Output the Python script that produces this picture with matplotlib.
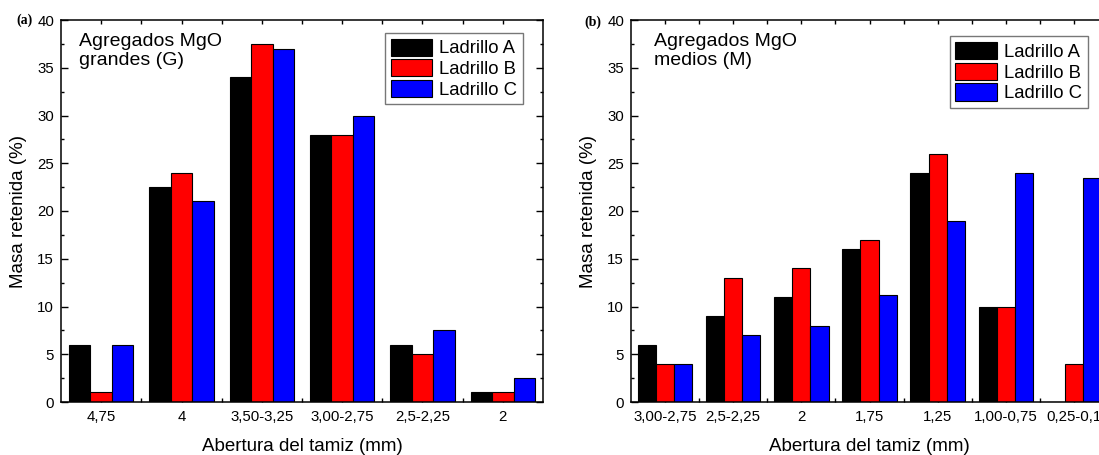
import matplotlib
matplotlib.use("Agg")
import matplotlib.pyplot as plt
import numpy as np

plt.rcParams['font.family'] = ['Liberation Sans', 'DejaVu Sans']

# ---- data ----
series_names = ['Ladrillo A', 'Ladrillo B', 'Ladrillo C']
series_colors = ['#000000', '#ff0000', '#0000ff']

cats_g = ['4,75', '4', '3,50-3,25', '3,00-2,75', '2,5-2,25', '2']
g_a = [6, 22.5, 34, 28, 6, 1]
g_b = [1, 24, 37.5, 28, 5, 1]
g_c = [6, 21, 37, 30, 7.5, 2.5]

cats_m = ['3,00-2,75', '2,5-2,25', '2', '1,75', '1,25', '1,00-0,75', '0,25-0,1']
m_a = [6, 9, 11, 16, 24, 10, 0]
m_b = [4, 13, 14, 17, 26, 10, 4]
m_c = [4, 7, 8, 11.2, 19, 24, 23.5]

W, H = 1099, 455
fig = plt.figure(figsize=(W / 100, H / 100), dpi=100)


def px_axes(l, r, t, b):
    return fig.add_axes([l / W, 1 - b / H, (r - l) / W, (b - t) / H])


def draw(ax, cats, vals, note, legend_anchor):
    n = len(cats)
    x = np.arange(1, n + 1)
    bw = 0.8 / 3
    for i, (v, c, name) in enumerate(zip(vals, series_colors, series_names)):
        ax.bar(x + (i - 1) * bw, v, width=bw, color=c, edgecolor='black',
               linewidth=0.8, label=name, zorder=2)
    ax.set_xlim(0.5, n + 0.5)
    ax.set_ylim(0, 40)
    ax.set_xticks(x)
    ax.set_xticklabels(cats)
    ax.set_xticks(np.arange(1.5, n, 1.0), minor=True)
    ax.set_yticks(np.arange(0, 41, 5))
    ax.set_yticks(np.arange(2.5, 40, 5), minor=True)
    ax.tick_params(axis='both', which='both', direction='in', top=True,
                   right=True, labelsize=10.8, width=1.0)
    ax.tick_params(axis='y', which='major', length=5)
    ax.tick_params(axis='y', which='minor', length=2.5)
    ax.tick_params(axis='x', which='both', length=3)
    ax.tick_params(axis='x', which='major', pad=6)
    ax.tick_params(axis='y', which='major', pad=5)
    for s in ax.spines.values():
        s.set_linewidth(1.1)
    ax.set_xlabel('Abertura del tamiz (mm)', fontsize=13.5, labelpad=9.5)
    ax.set_ylabel('Masa retenida (%)', fontsize=13.5, labelpad=7)
    ax.text(note[0], 0.965, note[1], transform=ax.transAxes, fontsize=14,
            va='top', ha='left', linespacing=1.15)
    leg = ax.legend(loc='upper right', bbox_to_anchor=legend_anchor,
                    fontsize=13.3, handlelength=2.25, handleheight=1.05,
                    labelspacing=0.1, borderpad=0.3, handletextpad=0.4,
                    borderaxespad=0, fancybox=False, framealpha=1)
    leg.get_frame().set_edgecolor('#777777')
    leg.get_frame().set_linewidth(1.0)
    return ax


ax1 = px_axes(61, 543, 20, 402)
draw(ax1, cats_g, [g_a, g_b, g_c], (0.037, 'Agregados MgO\ngrandes (G)'),
     (0.9585, 0.966))
fig.text(16 / W, 1 - 20 / H, '(a)', fontsize=10, fontweight='bold',
         family='Liberation Serif', va='center', ha='left')

ax2 = px_axes(631, 1108, 20, 402)
draw(ax2, cats_m, [m_a, m_b, m_c], (0.049, 'Agregados MgO\nmedios (M)'),
     (0.958, 0.957))
fig.text(584 / W, 1 - 22 / H, '(b)', fontsize=10, fontweight='bold',
         family='Liberation Serif', va='center', ha='left')

fig.savefig('out.png', dpi=100)
